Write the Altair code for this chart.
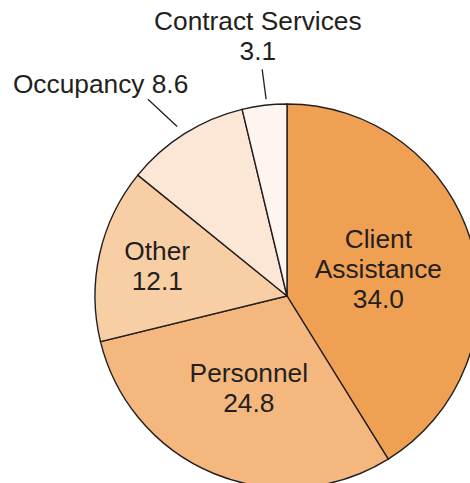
import altair as alt
import pandas as pd

categories = ["Client Assistance", "Personnel", "Other", "Occupancy", "Contract Services"]
values = [34.0, 24.8, 12.1, 8.6, 3.1]
label_names = ["Client\nAssistance", "Personnel", "Other", "Occupancy", "Contract Services"]
label_seps = ["\n", "\n", "\n", " ", "\n"]
colors = ["#F0A052", "#F4B77D", "#F8CFA5", "#FCE6D5", "#FEF5EE"]

df = pd.DataFrame({
    "category": categories,
    "value": values,
    "order": list(range(len(categories))),
    "label": [f"{n}{s}{v:.1f}" for n, s, v in zip(label_names, label_seps, values)],
})

CX, CY, R = 287, 296, 192
INK = "#231F20"
FONT = "Liberation Sans"
FS = 26.3
LH = 30

base = (
    alt.Chart(df)
    .transform_joinaggregate(total="sum(value)")
    .transform_window(cum="sum(value)", sort=[alt.SortField("order")], frame=[None, 0])
    .transform_calculate(mid="(datum.cum - datum.value/2) / datum.total * 2 * PI")
)

arc = alt.Chart(df).mark_arc(outerRadius=R, stroke=INK, strokeWidth=1.4).encode(
    theta=alt.Theta("value:Q", stack=True),
    order=alt.Order("order:Q"),
    color=alt.Color("category:N", scale=alt.Scale(domain=categories, range=colors), legend=None),
    x=alt.value(CX),
    y=alt.value(CY),
)

# (category, radius, dx, number of lines)
label_specs = [
    ("Client Assistance", 95, 0, 3),
    ("Personnel", 101, 0, 2),
    ("Other", 133, 0, 2),
    ("Occupancy", 250, -53, 1),
    ("Contract Services", 261, 1.5, 2),
]

texts = []
for cat, rad, dx, nlines in label_specs:
    texts.append(
        base.transform_filter(alt.datum.category == cat)
        .mark_text(
            radius=rad, dx=dx, dy=-(nlines - 1) * LH / 2, font=FONT, fontSize=FS, color=INK,
            lineBreak="\n", lineHeight=LH, align="center", baseline="middle",
        )
        .encode(
            theta=alt.Theta("mid:Q", scale=None, stack=False),
            text="label:N",
            x=alt.value(CX),
            y=alt.value(CY),
        )
    )

# leader lines (category, r_inner, deg offset inner, r_outer, deg offset outer)
leader_specs = [("Occupancy", 202, -0.7, 241, -3.0), ("Contract Services", 198, 0.7, 228, 0.5)]
rules = []
for cat, r1, d1, r2, d2 in leader_specs:
    rules.append(
        base.transform_filter(alt.datum.category == cat)
        .transform_calculate(
            x1=f"{CX} + {r1} * sin(datum.mid + {d1} * PI / 180)",
            y1=f"{CY} - {r1} * cos(datum.mid + {d1} * PI / 180)",
            x2=f"{CX} + {r2} * sin(datum.mid + {d2} * PI / 180)",
            y2=f"{CY} - {r2} * cos(datum.mid + {d2} * PI / 180)",
        )
        .mark_rule(stroke=INK, strokeWidth=1.3)
        .encode(
            x=alt.X("x1:Q", scale=None),
            y=alt.Y("y1:Q", scale=None),
            x2="x2:Q",
            y2="y2:Q",
        )
    )

chart = (
    alt.layer(arc, *rules, *texts)
    .properties(width=470, height=483, autosize="none", padding=0, background="white")
    .configure_view(stroke=None)
)

chart.save("out.html", embed_options={"renderer": "svg", "actions": False})
